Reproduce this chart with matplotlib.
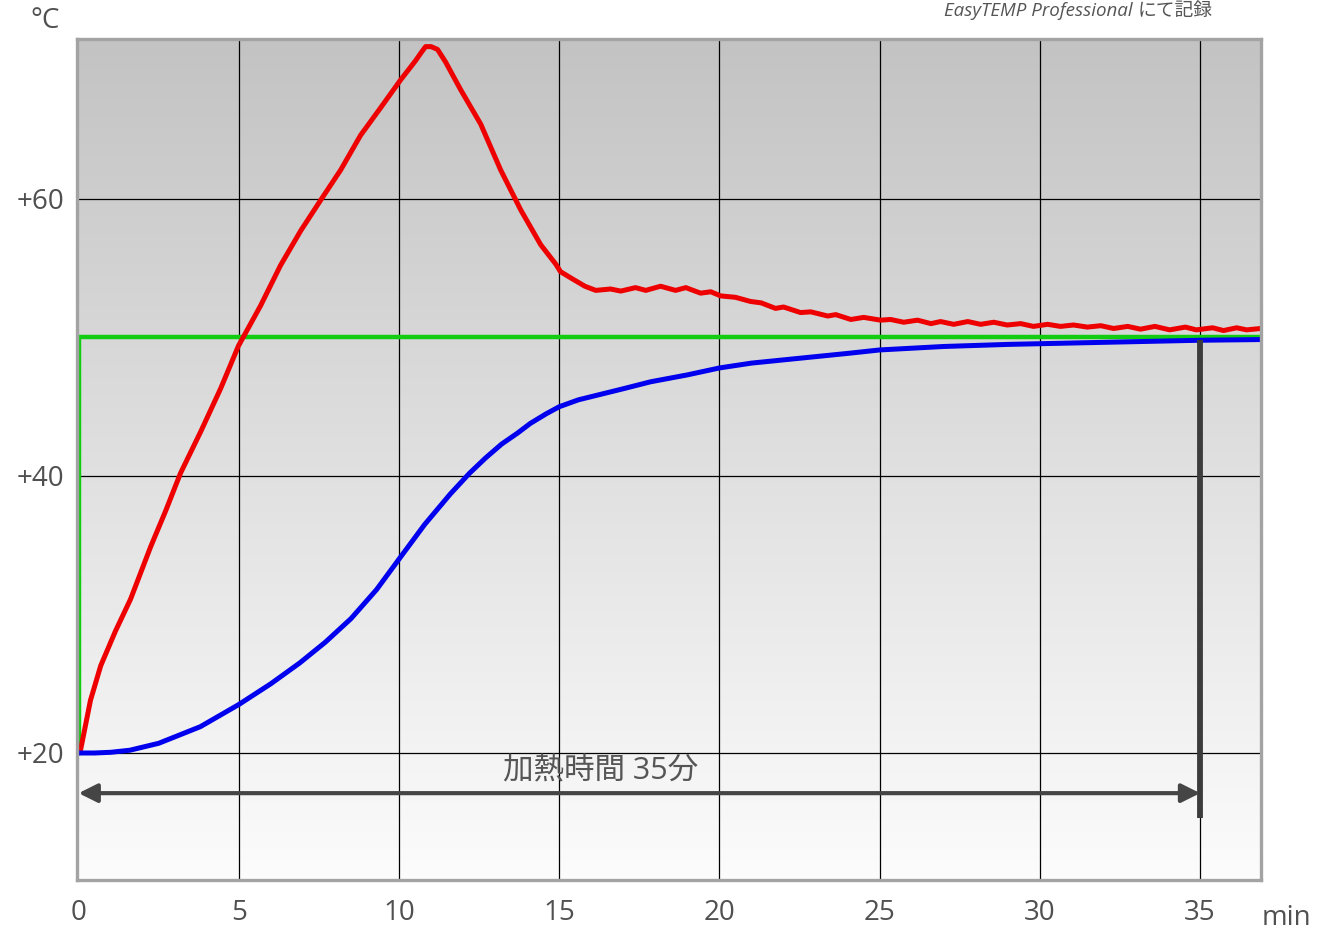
import matplotlib
matplotlib.use("Agg")
import matplotlib.pyplot as plt
import numpy as np
from matplotlib.colors import LinearSegmentedColormap

plt.rcParams['font.family'] = ['Open Sans', 'Noto Sans CJK JP', 'DejaVu Sans']

# ---- data ----
x_ticks = [0, 5, 10, 15, 20, 25, 30, 35]
y_ticks = [20, 40, 60]
y_tick_labels = ["+20", "+40", "+60"]

setpoint_t = [0, 0, 36.9]
setpoint_v = [20, 50, 50]

red_t = [0.0, 0.06, 0.37, 0.69, 1.15, 1.62, 2.25, 2.72, 3.18, 3.81, 4.43, 4.99, 5.68, 6.3,
         6.93, 7.55, 8.18, 8.8, 9.43, 10.05, 10.52, 10.7, 10.83, 11.0, 11.2, 11.45, 11.92,
         12.55, 13.17, 13.8, 14.42, 14.89, 15.04, 15.36, 15.8, 16.14, 16.6, 16.92, 17.38,
         17.7, 18.16, 18.63, 18.95, 19.41, 19.73, 20.04, 20.5, 20.97, 21.3, 21.75, 22.0,
         22.53, 22.85, 23.38, 23.63, 24.1, 24.5, 25.03, 25.34, 25.75, 26.18, 26.6, 26.9,
         27.31, 27.75, 28.15, 28.56, 28.98, 29.4, 29.8, 30.24, 30.64, 31.05, 31.48, 31.9,
         32.3, 32.74, 33.14, 33.59, 34.05, 34.54, 34.88, 35.39, 35.73, 36.14, 36.45, 36.9]
red_v = [20.0, 20.2, 23.8, 26.3, 28.8, 31.1, 34.9, 37.5, 40.2, 43.2, 46.3, 49.4, 52.3, 55.2,
         57.7, 59.9, 62.1, 64.6, 66.6, 68.6, 70.0, 70.6, 71.0, 71.0, 70.8, 69.9, 67.9,
         65.4, 62.1, 59.2, 56.7, 55.3, 54.75, 54.3, 53.7, 53.4, 53.5, 53.35, 53.6,
         53.4, 53.7, 53.4, 53.6, 53.2, 53.3, 53.0, 52.9, 52.6, 52.5, 52.1, 52.2,
         51.8, 51.85, 51.55, 51.65, 51.3, 51.45, 51.25, 51.3, 51.1, 51.25, 51.0, 51.15,
         50.95, 51.15, 50.95, 51.1, 50.9, 51.0, 50.8, 50.95, 50.8, 50.9, 50.75, 50.85,
         50.65, 50.8, 50.6, 50.8, 50.55, 50.75, 50.55, 50.7, 50.5, 50.7, 50.55, 50.65]

blue_t = [0.0, 0.5, 1.0, 1.6, 2.5, 3.8, 5.0, 6.0, 6.9, 7.7, 8.5, 9.3, 10.0, 10.8, 11.6, 12.2,
          12.7, 13.2, 13.7, 14.1, 14.6, 15.0, 15.6, 16.3, 17.0, 17.85, 19.0, 20.0, 21.0,
          22.5, 24.0, 25.0, 27.0, 29.0, 31.0, 33.0, 35.0, 36.9]
blue_v = [20.0, 20.0, 20.05, 20.2, 20.7, 21.9, 23.5, 25.0, 26.5, 28.0, 29.7, 31.8, 34.0, 36.5,
          38.7, 40.2, 41.3, 42.3, 43.1, 43.8, 44.5, 45.0, 45.5, 45.9, 46.3, 46.8, 47.3, 47.8,
          48.15, 48.5, 48.85, 49.1, 49.35, 49.5, 49.6, 49.7, 49.8, 49.85]

heat_start, heat_end = 0, 35
arrow_level = 17.1
marker_top = 49.8
marker_bottom = 15.3
heat_label = "加熱時間 35分"

# ---- figure ----
fig = plt.figure(figsize=(13.26, 9.32), dpi=100)
ax = fig.add_axes([77/1326, 1-880/932, (1261-77)/1326, (880-39)/932])
xmin, xmax = -0.05, 36.9
ymin, ymax = 10.83, 71.55
ax.set_xlim(xmin, xmax)
ax.set_ylim(ymin, ymax)

cmap = LinearSegmentedColormap.from_list("bg", ["#fcfcfc", "#c3c3c3"])
grad = np.linspace(0, 1, 256).reshape(-1, 1)
ax.imshow(grad, extent=[xmin, xmax, ymin, ymax], origin="lower", aspect="auto",
          cmap=cmap, zorder=0, interpolation="bicubic")

for xv in x_ticks[1:]:
    ax.axvline(xv, color="black", lw=0.9, zorder=1)
for yv in y_ticks:
    ax.axhline(yv, color="black", lw=0.9, zorder=1)

ax.plot(setpoint_t, setpoint_v, color="#11cc11", lw=3.2, zorder=3, solid_joinstyle="miter")
ax.plot(red_t, red_v, color="#ee0000", lw=3.6, zorder=4, solid_capstyle="round",
        solid_joinstyle="round")
ax.plot(blue_t, blue_v, color="#0000ee", lw=3.6, zorder=5, solid_capstyle="round",
        solid_joinstyle="round")

# heating time marker
ax.plot([heat_end, heat_end], [marker_top, marker_bottom], color="#3c3c3c", lw=4.2, zorder=6,
        solid_capstyle="butt")
ax.annotate("", xy=(heat_start, arrow_level), xytext=(heat_end, arrow_level),
            arrowprops=dict(arrowstyle="<|-|>", color="#454545", lw=3, mutation_scale=28,
                            shrinkA=0, shrinkB=0), zorder=6)
ax.text(16.3, 18.65, heat_label, ha="center", va="center", fontsize=22, color="#555555",
        zorder=7)

for s in ax.spines.values():
    s.set_color("#a3a3a3")
    s.set_linewidth(2.4)
    s.set_zorder(8)

ax.set_xticks(x_ticks)
ax.set_xticklabels([str(v) for v in x_ticks])
ax.set_yticks(y_ticks)
ax.set_yticklabels(y_tick_labels)
ax.tick_params(length=0, labelsize=20, labelcolor="#505050")
ax.tick_params(axis="x", pad=14)
ax.tick_params(axis="y", pad=9)

fig.text(45/1326, 1-21/932, "°C", ha="center", va="center", fontsize=20, color="#505050")
fig.text(1286/1326, 1-918/932, "min", ha="center", va="center", fontsize=20, color="#505050")
fig.text(1133/1326, 1-16/932, "EasyTEMP Professional", ha="right", va="baseline",
         fontsize=13.5, color="#555555", style="italic")
fig.text(1138/1326, 1-16/932, "にて記録", ha="left", va="baseline",
         fontsize=13.5, color="#555555", family=["Noto Sans CJK JP", "DejaVu Sans"])

fig.savefig("out.png", dpi=100)
